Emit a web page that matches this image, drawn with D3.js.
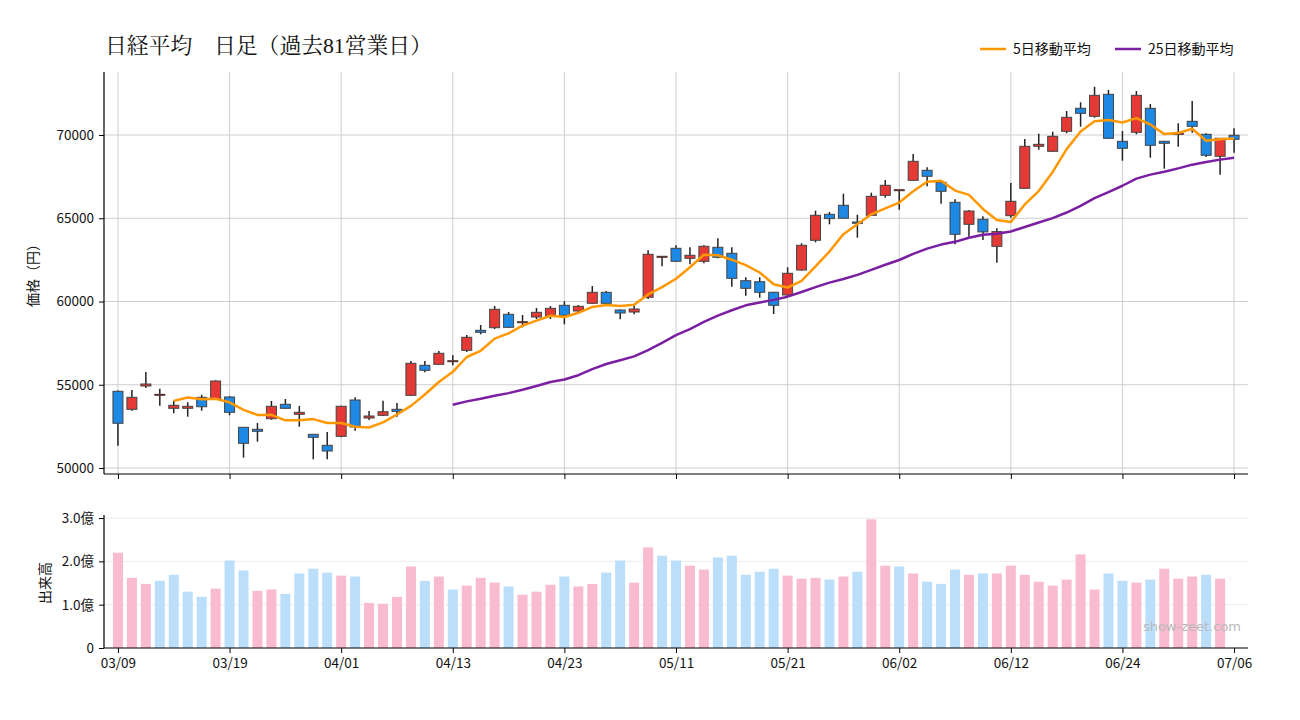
<!DOCTYPE html>
<html><head><meta charset="utf-8">
<script src="https://cdn.jsdelivr.net/npm/d3@7"></script>
<style>body{margin:0;background:#fff}text{font-family:"Noto Sans CJK JP","Noto Sans",sans-serif}</style>
</head><body><svg id="c" width="1300" height="720"></svg>
<script>
const title = "日経平均　日足（過去81営業日）";
const legendLabels = ["5日移動平均", "25日移動平均"];
const priceAxisTitle = "価格（円）";
const volAxisTitle = "出来高";
const watermark = "show-zeet.com";

const dates = ["03/09","03/10","03/11","03/12","03/13","03/16","03/17","03/18","03/19","03/23",
"03/24","03/25","03/26","03/27","03/30","03/31","04/01","04/02","04/03","04/06",
"04/07","04/08","04/09","04/10","04/13","04/14","04/15","04/16","04/17","04/20",
"04/21","04/22","04/23","04/24","04/27","04/28","04/30","05/01","05/07","05/08",
"05/11","05/12","05/13","05/14","05/15","05/18","05/19","05/20","05/21","05/22",
"05/25","05/26","05/27","05/28","05/29","06/01","06/02","06/03","06/04","06/05",
"06/08","06/09","06/10","06/11","06/12","06/15","06/16","06/17","06/18","06/19",
"06/22","06/23","06/24","06/25","06/26","06/29","06/30","07/01","07/02","07/03","07/06"];

const tickDates = ["03/09","03/19","04/01","04/13","04/23","05/11","05/21","06/02","06/12","06/24","07/06"];

const opens = [54607,53526,54925,54426,53586,53586,54246,54126,54264,52444,
52324,52961,53826,53225,52024,51363,51904,54084,53003,53165,
53526,54366,56168,56228,56444,57069,58270,58426,59231,58787,
59069,59147,59772,59429,59892,60553,59489,59369,60252,62715,
63195,62595,62414,63255,62895,61249,61189,60553,60390,61892,
63676,65237,65778,64775,65177,66378,66715,67279,67880,67159,
65958,64637,64937,63315,65153,66799,69321,69021,70222,71604,
71123,72444,69622,70162,71604,69622,70100,70823,70042,68721,69982];

const highs = [54650,54685,55766,54763,54042,53946,54402,55267,54324,52464,
52703,54024,54144,53724,52042,52162,53740,54246,53423,54042,
53904,56426,56426,57027,56769,57988,58589,59730,59369,59189,
59610,59730,60012,59790,60931,60631,59520,59730,63075,62715,
63375,63255,63375,63796,63255,61453,61453,60580,62054,63495,
65453,65375,66474,65213,66535,67297,66715,68859,68060,67180,
66138,65500,65117,64396,67117,69760,70078,70198,71441,71964,
72901,72703,70240,72643,71862,69650,70700,72042,70100,69802,70402];

const lows = [51339,53441,54805,53742,53285,53081,53441,54100,53165,50619,
51580,52900,53550,52480,50523,50523,51844,52240,52883,53123,
53081,54330,55748,56200,56168,56967,58030,58348,58420,58450,
58949,58949,58630,59249,59860,59860,58931,59231,60150,62114,
62380,62234,62294,62600,60889,60348,60228,59249,60330,61850,
63556,64637,64990,63832,65150,66234,65514,67250,66919,65874,
63435,63892,63694,62330,65033,66780,69117,69000,70102,70498,
71039,69780,68456,70042,68637,67976,69300,70138,68679,67616,68937];

const closes = [52685,54246,55045,54426,53766,53706,53680,55225,53345,51483,
52204,53706,53586,53345,51844,51021,53706,52462,53123,53380,
53400,56288,55868,56889,56444,57850,58150,59531,58450,58787,
59351,59591,59171,59712,60553,59892,59309,59550,62835,62715,
62414,62775,63315,62655,61393,60793,60553,59772,61694,63375,
65177,64980,65000,64697,66318,66979,66715,68420,67520,66619,
64036,65435,64180,64200,66018,69321,69441,69922,71063,71303,
72384,69802,69201,72384,69381,69502,70100,70523,68781,69802,69742];

// 出来高（億株）
const volumes = [2.20,1.62,1.48,1.55,1.69,1.30,1.18,1.37,2.02,1.79,
1.32,1.35,1.25,1.72,1.83,1.74,1.67,1.65,1.04,1.02,
1.18,1.88,1.55,1.65,1.35,1.44,1.62,1.51,1.42,1.23,
1.30,1.46,1.65,1.42,1.48,1.74,2.02,1.51,2.32,2.13,
2.02,1.90,1.81,2.09,2.13,1.69,1.76,1.83,1.67,1.60,
1.62,1.58,1.65,1.76,2.97,1.90,1.88,1.72,1.53,1.48,
1.81,1.69,1.72,1.72,1.90,1.69,1.53,1.44,1.58,2.16,
1.35,1.72,1.55,1.51,1.58,1.83,1.60,1.65,1.69,1.60,null];

const priceTicks = [50000,55000,60000,65000,70000];
const volTicks = [0,1,2,3];
const volTickLabels = ["0","1.0億","2.0億","3.0億"];

const svg = d3.select("#c");
const L = 104, R = 1248;
const pTop = 72, pBot = 474, vTop = 515, vBot = 648;

const x = d3.scalePoint().domain(dates).range([L, R]).padding(1);
const y = d3.scaleLinear().domain([49640, 73784]).range([pBot, pTop]);
const yv = d3.scaleLinear().domain([0, 3.07]).range([vBot, vTop]);

// grids
const g = svg.append("g");
g.selectAll(".hg").data(priceTicks).join("line")
  .attr("x1", L).attr("x2", R).attr("y1", d => y(d)).attr("y2", d => y(d))
  .attr("stroke", "#cfcfcf").attr("stroke-width", 1);
g.selectAll(".vg").data(tickDates).join("line")
  .attr("x1", d => x(d)).attr("x2", d => x(d)).attr("y1", pTop).attr("y2", pBot)
  .attr("stroke", "#cfcfcf").attr("stroke-width", 1);
g.selectAll(".vhg").data(volTicks.slice(1)).join("line")
  .attr("x1", L).attr("x2", R).attr("y1", d => yv(d)).attr("y2", d => yv(d))
  .attr("stroke", "#ececec").attr("stroke-width", 1);

// moving averages
function sma(n) {
  return closes.map((c, i) => i < n - 1 ? null : d3.mean(closes.slice(i - n + 1, i + 1)));
}
const ma5 = sma(5), ma25 = sma(25);

// candles
const up = "#e53935", down = "#1e88e5";
const bw = 10;
const cg = svg.append("g");
cg.selectAll(".wick").data(dates).join("line")
  .attr("x1", d => x(d)).attr("x2", d => x(d))
  .attr("y1", (d, i) => y(highs[i])).attr("y2", (d, i) => y(lows[i]))
  .attr("stroke", "#222").attr("stroke-width", 1.5);
cg.selectAll(".body").data(dates).join("rect")
  .attr("x", d => x(d) - bw / 2).attr("width", bw)
  .attr("y", (d, i) => y(Math.max(opens[i], closes[i])))
  .attr("height", (d, i) => Math.max(1, Math.abs(y(opens[i]) - y(closes[i]))))
  .attr("fill", (d, i) => closes[i] > opens[i] ? up : closes[i] < opens[i] ? down : "#6b3a3a")
  .attr("stroke", (d, i) => closes[i] === opens[i] ? "#5a3535" : "#444")
  .attr("stroke-width", 1);

const line = d3.line().defined(d => d != null).x((d, i) => x(dates[i])).y(d => y(d)).curve(d3.curveLinear);
svg.append("path").datum(ma5).attr("d", line).attr("fill", "none")
  .attr("stroke", "#ff9800").attr("stroke-width", 2.5).attr("stroke-linejoin", "round");
svg.append("path").datum(ma25).attr("d", line).attr("fill", "none")
  .attr("stroke", "#7b1fa2").attr("stroke-width", 2.5).attr("stroke-linejoin", "round");

// volume bars
const volUp = "#f8bbd0", volDown = "#bbdefb";
svg.append("g").selectAll("rect").data(dates).join("rect")
  .filter((d, i) => volumes[i] != null)
  .attr("x", d => x(d) - bw / 2).attr("width", bw)
  .attr("y", (d, i) => yv(volumes[i]))
  .attr("height", (d, i) => vBot - yv(volumes[i]))
  .attr("fill", (d, i) => (i === 0 || closes[i] > closes[i - 1]) ? volUp : volDown);

// axes
const fs = "13.5px";
const ay = svg.append("g").attr("transform", `translate(${L},0)`)
  .call(d3.axisLeft(y).tickValues(priceTicks).tickSize(5).tickPadding(5).tickSizeOuter(0).tickFormat(d3.format("d")));
ay.select(".domain").attr("d", `M0,${pTop}V${pBot}`);
const axp = svg.append("g").attr("transform", `translate(0,${pBot})`)
  .call(d3.axisBottom(x).tickValues(tickDates).tickSize(5).tickSizeOuter(0).tickFormat(""));
axp.select(".domain").attr("d", `M${L},0H${R}`);
const ayv = svg.append("g").attr("transform", `translate(${L},0)`)
  .call(d3.axisLeft(yv).tickValues(volTicks).tickSize(5).tickPadding(5).tickSizeOuter(0).tickFormat((d, i) => volTickLabels[i]));
ayv.select(".domain").attr("d", `M0,${vTop}V${vBot}`);
const axv = svg.append("g").attr("transform", `translate(0,${vBot})`)
  .call(d3.axisBottom(x).tickValues(tickDates).tickSize(5).tickPadding(5).tickSizeOuter(0));
axv.select(".domain").attr("d", `M${L},0H${R}`);
svg.selectAll(".tick text").attr("font-size", fs).attr("fill", "#111")
  .style("font-family", '"Noto Sans CJK JP","Noto Sans",sans-serif');
svg.selectAll(".domain").attr("stroke", "#000").attr("stroke-width", 1.2);
svg.selectAll(".tick line").attr("stroke", "#000");

// axis titles
svg.append("text").attr("transform", "translate(38,272) rotate(-90)")
  .attr("text-anchor", "middle").attr("font-size", "14px").attr("fill", "#111").text(priceAxisTitle);
svg.append("text").attr("transform", "translate(50,583) rotate(-90)")
  .attr("text-anchor", "middle").attr("font-size", "14px").attr("fill", "#111").text(volAxisTitle);

// title
svg.append("text").attr("x", 105).attr("y", 53).attr("font-size", "21.8px").attr("fill", "#111")
  .style("font-family", '"Liberation Serif","Noto Serif CJK JP","Noto Sans CJK JP",serif')
  .text(title);

// legend
const legendColors = ["#ff9800", "#7b1fa2"];
const legendX = [980, 1115];
legendLabels.forEach((t, k) => {
  svg.append("line").attr("x1", legendX[k]).attr("x2", legendX[k] + 26).attr("y1", 49).attr("y2", 49)
    .attr("stroke", legendColors[k]).attr("stroke-width", 2.5);
  svg.append("text").attr("x", legendX[k] + 33).attr("y", 54).attr("font-size", "14px").attr("fill", "#111").text(t);
});

// watermark
svg.append("text").attr("x", 1241).attr("y", 631).attr("text-anchor", "end")
  .attr("font-size", "13px").attr("fill", "#b8b8b8").style("font-family", '"DejaVu Sans",sans-serif').text(watermark);
</script>
</body></html>
